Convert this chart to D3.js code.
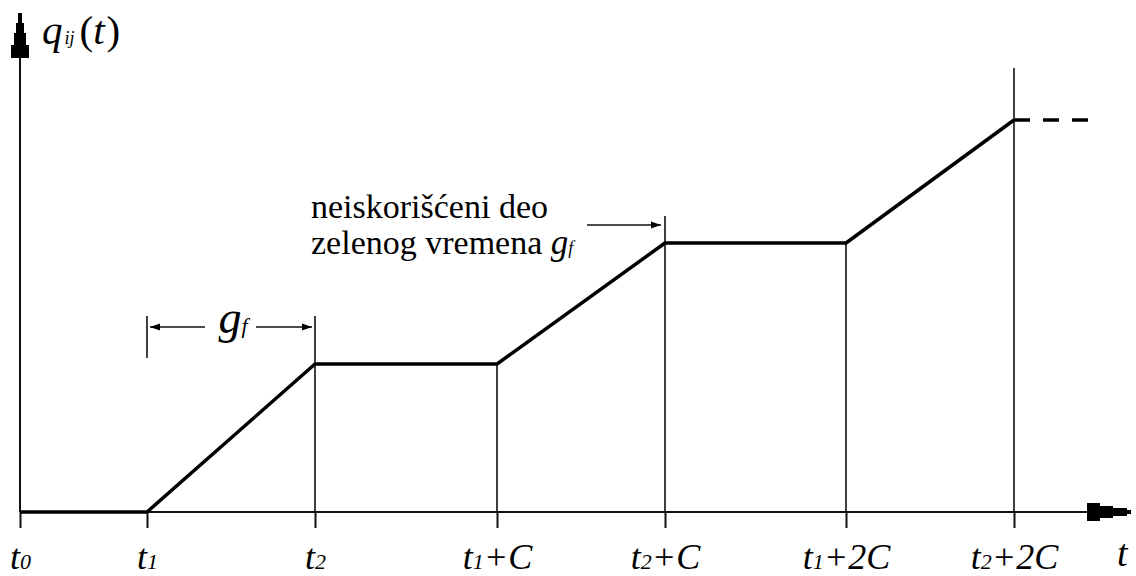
<!DOCTYPE html>
<html>
<head>
<meta charset="utf-8">
<script src="https://cdn.jsdelivr.net/npm/d3@7"></script>
<style>
  html, body { margin: 0; padding: 0; background: #fff; }
  svg { display: block; }
</style>
</head>
<body>
<svg id="chart" width="1136" height="576"></svg>
<script>
// Time instants on the t axis (abstract time units) and their labels
const tickTimes  = [0, 12.7, 29.5, 47.7, 64.5, 82.6, 99.4];
const tickLabels = ["t0", "t1", "t2", "t1+C", "t2+C", "t1+2C", "t2+2C"];

// Cumulative departures q_ij(t): breakpoints of the piecewise-linear curve
const queueTimes  = [0, 12.7, 29.5, 47.7, 64.5, 82.6, 99.4];
const queueValues = [0, 0, 14.8, 14.8, 26.9, 26.9, 39.2];

// Continuation after the last breakpoint (dashed)
const tailTimes  = [99.4, 106.9];
const tailValues = [39.2, 39.2];

// Vertical guide lines above the axis: time and top value
const guideTimes = [29.5, 47.7, 64.5, 82.6, 99.4];
const guideTops  = [19.6, 14.8, 29.6, 26.9, 44.4];

// Green-time bracket g_f between t1 and t2
const bracketTimes = [12.7, 29.5];
const bracketRange = [15.4, 19.6];
const bracketLevel = 18.5;

const SERIF = "'Liberation Serif', 'Times New Roman', 'DejaVu Serif', serif";

const svg = d3.select("#chart");

const x = d3.scaleLinear().domain([0, 111]).range([20, 1130]);
const y = d3.scaleLinear().domain([0, 50]).range([512, 12]);

const ink = "#111";

// Horizontal axis with ticks pointing down
const xAxis = d3.axisBottom(x).tickValues(tickTimes).tickSize(16).tickSizeOuter(0).tickFormat("");
const gx = svg.append("g").attr("transform", `translate(0,${y(0)})`).call(xAxis);
gx.select(".domain").remove();
gx.attr("font-family", SERIF);
gx.selectAll(".tick line").attr("stroke", ink).attr("stroke-width", 2);

// Tick labels: italic t, small subscript digit, then the remainder
gx.selectAll(".tick").each(function(d, i) {
  const lab = tickLabels[i];
  const t = d3.select(this).append("text")
    .attr("y", 57).attr("text-anchor", "middle").attr("fill", "#000")
    .attr("font-family", SERIF)
    .style("font-style", "italic").style("font-size", "36px");
  t.append("tspan").text(lab[0]);
  t.append("tspan").style("font-size", "22px").text(lab[1]);
  if (lab.length > 2) t.append("tspan").text(lab.slice(2));
});

// Axis lines
svg.append("line").attr("x1", x(0)).attr("x2", 1100).attr("y1", y(0)).attr("y2", y(0))
  .attr("stroke", ink).attr("stroke-width", 2);
svg.append("line").attr("x1", x(0)).attr("x2", x(0)).attr("y1", y(0)).attr("y2", 40)
  .attr("stroke", ink).attr("stroke-width", 2);

// Stepped arrowheads
const ax = x(0), ay = y(0);
svg.append("polygon").attr("fill", "#000").attr("points", [
  [ax-2,13],[ax+2,13],[ax+2,23],[ax+4,23],[ax+4,33],[ax+6,33],[ax+6,45],[ax+9,45],[ax+9,58],
  [ax-9,58],[ax-9,45],[ax-6,45],[ax-6,33],[ax-4,33],[ax-4,23],[ax-2,23]
].map(p => p.join(",")).join(" "));
svg.append("polygon").attr("fill", "#000").attr("points", [
  [1087,ay-9],[1100,ay-9],[1100,ay-6],[1113,ay-6],[1113,ay-4],[1127,ay-4],[1127,ay-2],[1131,ay-2],
  [1131,ay+2],[1127,ay+2],[1127,ay+4],[1113,ay+4],[1113,ay+6],[1100,ay+6],[1100,ay+9],[1087,ay+9]
].map(p => p.join(",")).join(" "));

// Vertical guides
svg.selectAll(".guide").data(guideTimes).join("line")
  .attr("class", "guide")
  .attr("x1", d => x(d)).attr("x2", d => x(d))
  .attr("y1", (d, i) => y(guideTops[i])).attr("y2", y(0))
  .attr("stroke", ink).attr("stroke-width", 1.6);

// Bracket for g_f
svg.append("line").attr("x1", x(bracketTimes[0])).attr("x2", x(bracketTimes[0]))
  .attr("y1", y(bracketRange[1])).attr("y2", y(bracketRange[0]))
  .attr("stroke", ink).attr("stroke-width", 1.6);

const defs = svg.append("defs");
defs.append("marker").attr("id", "head").attr("viewBox", "0 0 10 10")
  .attr("refX", 10).attr("refY", 5).attr("markerWidth", 10).attr("markerHeight", 10)
  .attr("markerUnits", "userSpaceOnUse").attr("orient", "auto")
  .append("path").attr("d", "M0,1.5 L10,5 L0,8.5 Z").attr("fill", "#000");

const by = y(bracketLevel);
svg.append("line").attr("x1", 205).attr("x2", x(bracketTimes[0]) + 3).attr("y1", by).attr("y2", by)
  .attr("stroke", ink).attr("stroke-width", 1.6).attr("marker-end", "url(#head)");
svg.append("line").attr("x1", 256).attr("x2", x(bracketTimes[1]) - 3).attr("y1", by).attr("y2", by)
  .attr("stroke", ink).attr("stroke-width", 1.6).attr("marker-end", "url(#head)");
const gl = svg.append("text").attr("x", 233).attr("y", 333).attr("text-anchor", "middle")
  .attr("font-family", SERIF)
  .style("font-style", "italic").style("font-size", "46px");
gl.append("tspan").text("g");
gl.append("tspan").style("font-size", "22px").text("f");

// Cumulative curve
const line = d3.line().x(d => x(d[0])).y(d => y(d[1]));
svg.append("path").datum(d3.zip(queueTimes, queueValues))
  .attr("d", line).attr("fill", "none").attr("stroke", "#000")
  .attr("stroke-width", 3.5).attr("stroke-linejoin", "round");
svg.append("path").datum(d3.zip(tailTimes, tailValues))
  .attr("d", line).attr("fill", "none").attr("stroke", "#000")
  .attr("stroke-width", 3.5).attr("stroke-dasharray", "16,13");

// Annotation for the unused part of green time
svg.append("text").attr("x", 311).attr("y", 218).attr("font-family", SERIF)
  .style("font-size", "34px").text("neiskorišćeni deo");
const a2 = svg.append("text").attr("x", 311).attr("y", 254).attr("font-family", SERIF)
  .style("font-size", "34px");
a2.append("tspan").text("zelenog vremena ");
a2.append("tspan").style("font-style", "italic").style("font-size", "35px").text("g");
a2.append("tspan").style("font-style", "italic").style("font-size", "18px").text("f");
svg.append("line").attr("x1", 587).attr("x2", x(64.5) - 4).attr("y1", 225).attr("y2", 225)
  .attr("stroke", ink).attr("stroke-width", 1.6).attr("marker-end", "url(#head)");

// Axis titles
const qy = svg.append("text").attr("x", 42).attr("y", 44).attr("font-family", SERIF)
  .style("font-size", "41px");
qy.append("tspan").style("font-style", "italic").text("q");
qy.append("tspan").style("font-style", "italic").style("font-size", "18px").attr("dx", 2).text("ij");
qy.append("tspan").attr("dx", 5).text("(");
qy.append("tspan").style("font-style", "italic").text("t");
qy.append("tspan").attr("dx", 2).text(")");

svg.append("text").attr("x", 1117).attr("y", 566).attr("font-family", SERIF)
  .style("font-style", "italic").style("font-size", "38px").text("t");
</script>
</body>
</html>
